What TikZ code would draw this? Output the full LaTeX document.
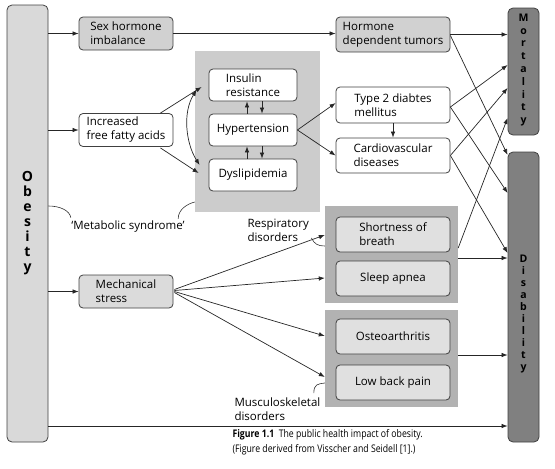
\documentclass[tikz,border=0pt]{standalone}
\usepackage{fontspec}
\setmainfont{Open Sans}
\newfontfamily\capfont[FakeStretch=0.83]{Open Sans}
\usetikzlibrary{arrows.meta, positioning, calc}

\begin{document}
\begin{tikzpicture}[x=1pt, y=-1pt,
    box/.style={draw=black!75, line width=0.8pt, rounded corners=4pt, align=left, inner sep=0pt,
      minimum width=94pt, minimum height=33pt, font=\fontsize{11.5}{14}\selectfont},
    bigbox/.style={box, minimum width=114pt, minimum height=35pt},
    innerbox/.style={box, minimum width=88pt, minimum height=32pt, fill=white},
    group/.style={rectangle, inner sep=0pt},
    bar/.style={draw=black!75, line width=0.8pt, rounded corners=5pt, minimum width=31pt, inner sep=0pt},
    bartext/.style={align=center, font=\bfseries\fontsize{10.5}{12.8}\selectfont},
    arr/.style={draw=black!85, line width=0.7pt, -{Latex[length=6pt,width=4.5pt]}},
    brace/.style={draw=black!80, line width=0.6pt},
    lbl/.style={align=left, font=\fontsize{11.5}{14}\selectfont}]
  \useasboundingbox (0,0) rectangle (555,469);

  % Obesity bar on the left
  \node[bar, fill=black!15, minimum width=41pt, minimum height=437pt] (obes) at (27.5,223.5) {};
  \node[align=center, font=\bfseries\fontsize{14}{15}\selectfont] (obestxt) at (obes.center) {O\\b\\e\\s\\i\\t\\y};

  % Outcome bars on the right
  \node[bar, fill=black!50, minimum height=127pt] (mort) at (523.5,71.5) {};
  \node[bartext] (morttxt) at (523.5,70) {M\\o\\r\\t\\a\\l\\i\\t\\y};
  \node[bar, fill=black!50, minimum height=290pt] (dis) at (523.5,297) {};
  \node[bartext, font=\bfseries\fontsize{10.5}{12}\selectfont] (distxt) at (523.5,314) {D\\i\\s\\a\\b\\i\\l\\i\\t\\y};

  % First column
  \node[box, fill=black!18] (sex) at (126,33.5) {Sex hormone\\imbalance};
  \node[box, fill=white] (ffa) at (126,130) {Increased\\free fatty acids};
  \node[box, fill=black!14] (mech) at (126,291.5) {Mechanical\\stress};

  % Metabolic syndrome group
  \node[group, fill=black!20, minimum width=125pt, minimum height=161pt] (metab) at (257.5,131.5) {};
  \node[innerbox] (ins) at (253,85) {Insulin\\resistance};
  \node[innerbox] (hyp) at (253,130) {Hypertension};
  \node[innerbox] (dys) at (253,175) {Dyslipidemia};

  % Third column
  \node[bigbox, fill=black!18] (tum) at (393,34.5) {Hormone\\dependent tumors};
  \node[bigbox, fill=white, minimum height=36pt] (t2d) at (393,105) {Type 2 diabtes\\mellitus};
  \node[bigbox, fill=white] (cvd) at (393,155.5) {Cardiovascular\\diseases};

  % Respiratory and musculoskeletal groups
  \node[group, fill=black!30, minimum width=133pt, minimum height=97pt] (resp) at (391.5,254.5) {};
  \node[bigbox, fill=black!12] (sob) at (393,234.5) {Shortness of\\breath};
  \node[bigbox, fill=black!12] (apnea) at (393,278.5) {Sleep apnea};
  \node[group, fill=black!30, minimum width=133pt, minimum height=97pt] (musc) at (391.5,358.5) {};
  \node[bigbox, fill=black!12] (oa) at (393,336.5) {Osteoarthritis};
  \node[bigbox, fill=black!12] (lbp) at (393,382.5) {Low back pain};

  % Labels
  \node[lbl] (msyn) at (128,227) {‘Metabolic syndrome’};
  \node[lbl, anchor=west] (resptxt) at (244,230) {Respiratory\\disorders};
  \node[lbl, anchor=west] (musctxt) at (231,409) {Musculoskeletal\\disorders};
  \node[align=left, anchor=west, font=\capfont\fontsize{10.5}{15}\selectfont] (cap) at (229,442.5)
    {\textbf{Figure 1.1}\ \ The public health impact of obesity.\\(Figure derived from Visscher and Seidell [1].)};

  % Brackets
  \draw[brace] (obes.east |- 0,206) .. controls +(12,0) and +(-1,-7) .. ($(msyn.north west)+(3,0)$);
  \draw[brace] ($(msyn.north east)+(-10,1)$) .. controls +(0,-9) and +(-8,2) .. (metab.south west |- 0,202);
  \draw[brace] ($(resptxt.east)+(-1,8)$) .. controls +(3,6) and +(-7,0) .. (resp.west |- 0,246);
  \draw[brace] ($(musctxt.north east)+(-10,-1)$) .. controls +(0,-9) and +(-7,1) .. (musc.west |- 0,383);

  % Arrows out of obesity
  \draw[arr] (obes.east |- sex.west) -- (sex.west);
  \draw[arr] (obes.east |- ffa.west) -- (ffa.west);
  \draw[arr] (obes.east |- mech.west) -- (mech.west);
  \draw[arr] (obes.east |- 0,426) -- (dis.west |- 0,426);

  % Hormone path
  \draw[arr] (sex.east) -- (tum.west |- sex.east);
  \draw[arr] (tum.east) -- (mort.west |- tum.east);
  \draw[arr] ($(tum.east)+(0,1)$) -- (dis.west |- 0,155);

  % Metabolic path
  \draw[arr] ($(ffa.north east)+(-13,0)$) -- ($(ins.west)+(-7,2)$);
  \draw[arr] ($(ffa.south east)+(-13,1)$) -- ($(dys.west)+(-10,-2)$);
  \draw[arr, {Latex[length=6pt,width=4.5pt]}-{Latex[length=6pt,width=4.5pt]}]
    ($(ins.west)+(-12,5)$) .. controls +(-14,22) and +(-14,-22) .. ($(dys.west)+(-9,-10)$);
  \draw[arr] ($(hyp.north)+(-6,0)$) -- ($(ins.south)+(-6,0)$);
  \draw[arr] ($(ins.south)+(9,0)$) -- ($(hyp.north)+(9,0)$);
  \draw[arr] ($(dys.north)+(-6,0)$) -- ($(hyp.south)+(-6,0)$);
  \draw[arr] ($(hyp.south)+(9,0)$) -- ($(dys.north)+(9,0)$);
  \draw[arr] (hyp.east) -- ($(t2d.west)+(0,-2)$);
  \draw[arr] (hyp.east) -- (cvd.west);
  \draw[arr] (t2d.south) -- (cvd.north);
  \draw[arr] ($(t2d.east)+(0,2)$) -- (mort.west |- 0,65);
  \draw[arr] ($(t2d.east)+(0,2)$) -- (dis.west |- 0,193);
  \draw[arr] (cvd.east) -- (mort.west |- 0,88);
  \draw[arr] (cvd.east) -- (dis.west |- 0,253);

  % Mechanical path
  \draw[arr] ($(mech.east)+(1,-2)$) -- (resp.west |- 0,235);
  \draw[arr] ($(mech.east)+(1,-1)$) -- (resp.west |- 0,278);
  \draw[arr] ($(mech.east)+(1,0)$) -- (musc.west |- 0,336);
  \draw[arr] ($(mech.east)+(1,1)$) -- (musc.west |- 0,377);
  \draw[arr] (resp.east |- 0,248) -- (mort.west |- 0,118);
  \draw[arr] (resp.east |- 0,258) -- (dis.west |- 0,258);
  \draw[arr] (musc.east |- 0,355) -- (dis.west |- 0,355);
\end{tikzpicture}
\end{document}
